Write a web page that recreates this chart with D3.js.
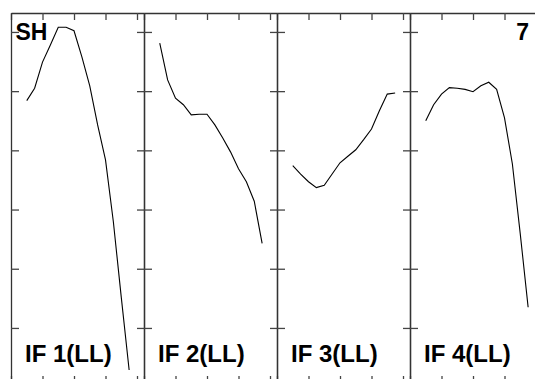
<!DOCTYPE html>
<html>
<head>
<meta charset="utf-8">
<script src="https://cdn.jsdelivr.net/npm/d3@7"></script>
<style>
  html, body { margin: 0; padding: 0; background: #fff; }
  svg { display: block; }
</style>
</head>
<body>
<script>
// ---- data ----
const panelLabels = ["IF 1(LL)", "IF 2(LL)", "IF 3(LL)", "IF 4(LL)"];
const cornerLeft = "SH";
const cornerRight = "7";
const xTicks = [0, 1, 2, 3, 4];
const yTicks = [0, 1, 2, 3, 4, 5];
const xValues = [0.5, 0.75, 1.0, 1.25, 1.5, 1.75, 2.0, 2.25, 2.5, 2.75, 3.0, 3.25, 3.5, 3.75];
const series1 = [3.84, 4.05, 4.49, 4.78, 5.08, 5.08, 5.02, 4.58, 4.09, 3.43, 2.84, 1.79, 0.52, -0.71];
const series2 = [4.81, 4.19, 3.88, 3.77, 3.60, 3.61, 3.61, 3.43, 3.21, 2.97, 2.69, 2.47, 2.14, 1.43];
const series3 = [2.74, 2.60, 2.47, 2.37, 2.41, 2.60, 2.79, 2.90, 3.01, 3.18, 3.36, 3.67, 3.95, 3.97];
const series4 = [3.50, 3.77, 3.95, 4.06, 4.05, 4.03, 3.99, 4.09, 4.15, 4.03, 3.55, 2.77, 1.59, 0.35];
const allSeries = [series1, series2, series3, series4];

(function () {
  // ---- layout ----
  const W = 535, H = 379;
  const left0 = 11, panelW = 133, frameTop = 13, frameBottom = 383;
  const xMax = 4.222;
  const font = "'Liberation Sans', Arial, sans-serif";

  const svg = d3.select("body").append("svg").attr("width", W).attr("height", H);

  const y = d3.scaleLinear().domain([-0.93, 5.32]).range([frameBottom, frameTop]);

  const axisStyle = g => {
    g.selectAll("path.domain").attr("stroke", "#333").attr("stroke-width", 1.3);
    g.selectAll(".tick line").attr("stroke", "#444").attr("stroke-width", 1.3);
  };

  allSeries.forEach((vals, i) => {
    const x0 = left0 + i * panelW;
    const x = d3.scaleLinear().domain([0, xMax]).range([x0, x0 + panelW]);

    svg.append("g").attr("transform", `translate(0,${frameTop})`)
      .call(d3.axisTop(x).tickValues(xTicks).tickSizeInner(-7).tickSizeOuter(0).tickFormat(""))
      .call(axisStyle);
    svg.append("g").attr("transform", `translate(0,${frameBottom})`)
      .call(d3.axisBottom(x).tickValues(xTicks).tickSizeInner(-7).tickSizeOuter(0).tickFormat(""))
      .call(axisStyle);
    svg.append("g").attr("transform", `translate(${x0},0)`)
      .call(d3.axisLeft(y).tickValues(yTicks).tickSizeInner(-8).tickSizeOuter(0).tickFormat(""))
      .call(axisStyle);
    svg.append("g").attr("transform", `translate(${x0 + panelW},0)`)
      .call(d3.axisRight(y).tickValues(yTicks).tickSizeInner(-7).tickSizeOuter(0).tickFormat(""))
      .call(axisStyle);

    const line = d3.line().x((d, j) => x(xValues[j])).y(d => y(d));
    svg.append("path").datum(vals)
      .attr("fill", "none").attr("stroke", "#000").attr("stroke-width", 1.1)
      .attr("d", line);

    svg.append("text")
      .attr("x", x0 + 14).attr("y", 361.5)
      .attr("font-family", font)
      .attr("font-weight", "bold").attr("font-size", 24)
      .attr("fill", "#000")
      .text(panelLabels[i]);
  });

  svg.append("text")
    .attr("x", 15.5).attr("y", 40)
    .attr("font-family", font)
    .attr("font-weight", "bold").attr("font-size", 23)
    .attr("fill", "#000")
    .text(cornerLeft);

  svg.append("text")
    .attr("x", 516.3).attr("y", 40)
    .attr("font-family", font)
    .attr("font-weight", "bold").attr("font-size", 23)
    .attr("fill", "#000")
    .text(cornerRight);
})();
</script>
</body>
</html>
